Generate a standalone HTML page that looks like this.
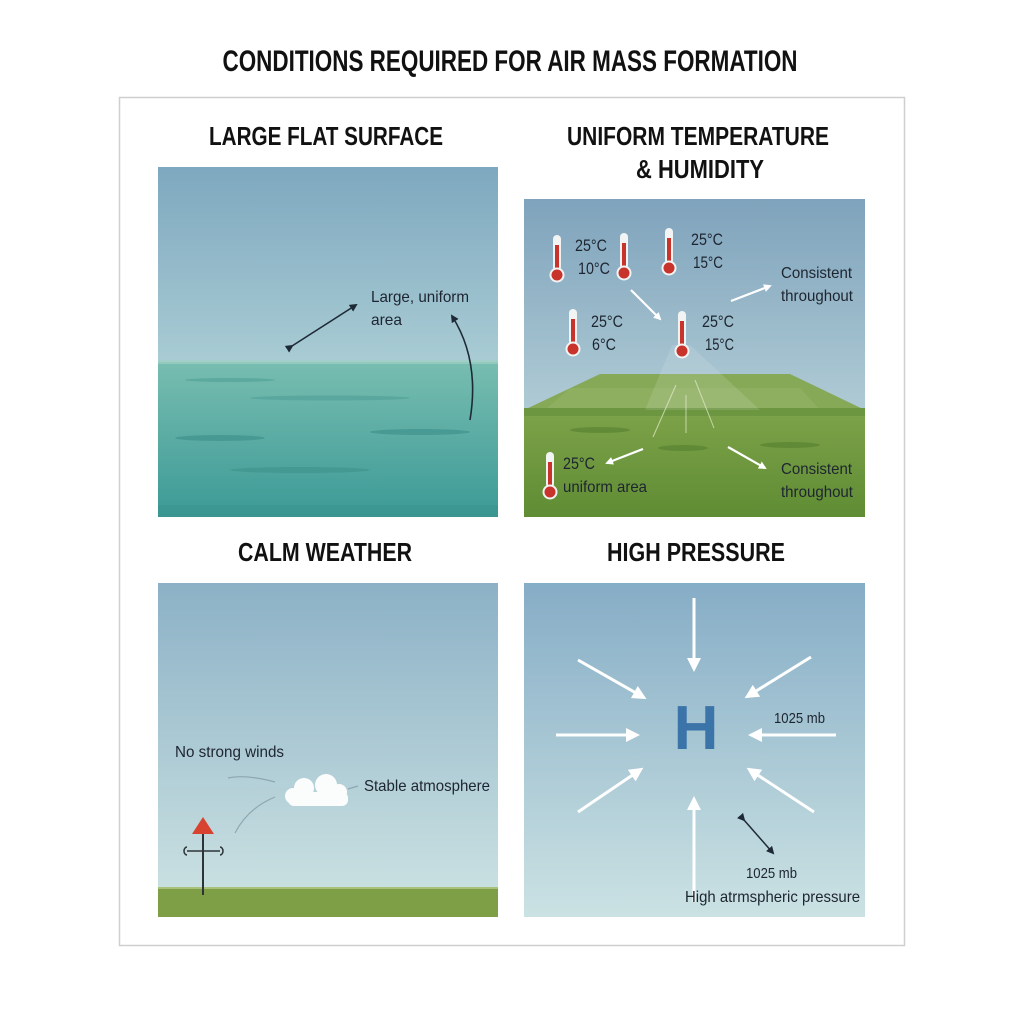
<!DOCTYPE html>
<html><head><meta charset="utf-8"><style>
html,body{margin:0;padding:0;background:#fff;}
svg{display:block;}
text{font-family:"Liberation Sans Narrow","Liberation Sans",sans-serif;fill:#1d2530;}
.h{font-weight:bold;fill:#111;}
</style></head><body>
<svg width="1024" height="1024" viewBox="0 0 1024 1024" xmlns="http://www.w3.org/2000/svg">
<defs>
<linearGradient id="sky1" x1="0" y1="0" x2="0" y2="1"><stop offset="0" stop-color="#7ea8bf"/><stop offset="1" stop-color="#a9ccd4"/></linearGradient>
<linearGradient id="sea" x1="0" y1="0" x2="0" y2="1"><stop offset="0" stop-color="#78bdb0"/><stop offset="1" stop-color="#3c9a96"/></linearGradient>
<linearGradient id="sky2" x1="0" y1="0" x2="0" y2="1"><stop offset="0" stop-color="#7fa3bc"/><stop offset="1" stop-color="#c7dfe1"/></linearGradient>
<linearGradient id="sky3" x1="0" y1="0" x2="0" y2="1"><stop offset="0" stop-color="#8cb1c6"/><stop offset="1" stop-color="#c9e0e1"/></linearGradient>
<linearGradient id="sky4" x1="0" y1="0" x2="0" y2="1"><stop offset="0" stop-color="#86adc6"/><stop offset="1" stop-color="#cbe2e3"/></linearGradient>
<linearGradient id="gr" x1="0" y1="0" x2="0" y2="1"><stop offset="0" stop-color="#7ea34a"/><stop offset="1" stop-color="#5f8c34"/></linearGradient>
<marker id="aw" markerWidth="8" markerHeight="8" refX="6" refY="4" orient="auto" markerUnits="userSpaceOnUse"><path d="M0,0 L8,4 L0,8 Z" fill="#fff"/></marker>
<marker id="ak" markerWidth="8" markerHeight="8" refX="6" refY="4" orient="auto" markerUnits="userSpaceOnUse"><path d="M0,0 L8,4 L0,8 Z" fill="#1d2a36"/></marker>
<marker id="aw2" markerWidth="14" markerHeight="14" refX="10" refY="7" orient="auto" markerUnits="userSpaceOnUse"><path d="M0,0 L14,7 L0,14 Z" fill="#fff"/></marker>
<g id="th"><rect x="-4" y="0" width="8" height="36" rx="4" fill="#f2f4f4"/><rect x="-2" y="10" width="4" height="28" fill="#c8332c"/><circle cx="0" cy="40" r="7.5" fill="#f2f4f4"/><circle cx="0" cy="40" r="5.5" fill="#c8332c"/></g>
</defs>

<text x="510" y="71" text-anchor="middle" class="h" font-size="30" textLength="575" lengthAdjust="spacingAndGlyphs">CONDITIONS REQUIRED FOR AIR MASS FORMATION</text>
<rect x="119.5" y="97.5" width="785" height="848" fill="none" stroke="#cfcfcf" stroke-width="1.5"/>

<text x="326" y="145" text-anchor="middle" class="h" font-size="26" textLength="234" lengthAdjust="spacingAndGlyphs">LARGE FLAT SURFACE</text>
<text x="698" y="145" text-anchor="middle" class="h" font-size="26" textLength="262" lengthAdjust="spacingAndGlyphs">UNIFORM TEMPERATURE</text>
<text x="700" y="178" text-anchor="middle" class="h" font-size="26" textLength="128" lengthAdjust="spacingAndGlyphs">&amp; HUMIDITY</text>
<text x="325" y="561" text-anchor="middle" class="h" font-size="26" textLength="174" lengthAdjust="spacingAndGlyphs">CALM WEATHER</text>
<text x="696" y="561" text-anchor="middle" class="h" font-size="26" textLength="178" lengthAdjust="spacingAndGlyphs">HIGH PRESSURE</text>

<!-- TL panel -->
<rect x="158" y="167" width="340" height="196" fill="url(#sky1)"/>
<rect x="158" y="362" width="340" height="155" fill="url(#sea)"/>
<rect x="158" y="360" width="340" height="4" fill="#9fd0c4" opacity="0.7"/>
<ellipse cx="230" cy="380" rx="45" ry="2" fill="#4f9e96" opacity="0.6"/>
<ellipse cx="330" cy="398" rx="80" ry="2.5" fill="#4f9e96" opacity="0.6"/>
<ellipse cx="420" cy="432" rx="50" ry="3" fill="#3b8d88" opacity="0.6"/>
<ellipse cx="220" cy="438" rx="45" ry="3" fill="#3b8d88" opacity="0.6"/>
<ellipse cx="300" cy="470" rx="70" ry="3" fill="#3b8d88" opacity="0.5"/>
<rect x="158" y="505" width="340" height="12" fill="#3a9590" opacity="0.6"/>
<line x1="292" y1="346" x2="356" y2="305" stroke="#1d2a36" stroke-width="1.6" marker-end="url(#ak)" marker-start="url(#ak)"/>
<path d="M470,420 Q480,360 452,316" fill="none" stroke="#1d2a36" stroke-width="1.6" marker-end="url(#ak)"/>
<text x="371" y="302" font-size="16" textLength="98" lengthAdjust="spacingAndGlyphs">Large, uniform</text>
<text x="371" y="325" font-size="16" textLength="31" lengthAdjust="spacingAndGlyphs">area</text>

<!-- TR panel -->
<rect x="524" y="199" width="341" height="318" fill="url(#sky2)"/>
<polygon points="600,374 790,374 865,410 524,410" fill="#86a957"/>
<polygon points="570,388 800,388 820,410 545,410" fill="#98b96c" opacity="0.4"/>
<rect x="524" y="408" width="341" height="109" fill="url(#gr)"/>
<rect x="524" y="408" width="341" height="8" fill="#6c9640"/>
<polygon points="672,345 690,345 760,410 645,410" fill="#fff" opacity="0.12"/>
<line x1="676" y1="385" x2="653" y2="437" stroke="#e6efd0" stroke-width="1" opacity="0.7"/>
<line x1="686" y1="395" x2="686" y2="433" stroke="#e6efd0" stroke-width="1" opacity="0.7"/>
<line x1="695" y1="380" x2="714" y2="428" stroke="#e6efd0" stroke-width="1" opacity="0.7"/>
<ellipse cx="600" cy="430" rx="30" ry="3" fill="#557f30" opacity="0.6"/>
<ellipse cx="683" cy="448" rx="25" ry="3" fill="#557f30" opacity="0.6"/>
<ellipse cx="790" cy="445" rx="30" ry="3" fill="#557f30" opacity="0.6"/>
<use href="#th" x="557" y="235"/>
<use href="#th" x="624" y="233"/>
<use href="#th" x="669" y="228"/>
<use href="#th" x="573" y="309"/>
<use href="#th" x="682" y="311"/>
<use href="#th" x="550" y="452"/>
<g font-size="17">
<text x="575" y="251" textLength="32" lengthAdjust="spacingAndGlyphs">25°C</text><text x="578" y="274" textLength="32" lengthAdjust="spacingAndGlyphs">10°C</text>
<text x="691" y="245" textLength="32" lengthAdjust="spacingAndGlyphs">25°C</text><text x="693" y="268" textLength="30" lengthAdjust="spacingAndGlyphs">15°C</text>
<text x="591" y="327" textLength="32" lengthAdjust="spacingAndGlyphs">25°C</text><text x="592" y="350" textLength="24" lengthAdjust="spacingAndGlyphs">6°C</text>
<text x="702" y="327" textLength="32" lengthAdjust="spacingAndGlyphs">25°C</text><text x="705" y="350" textLength="29" lengthAdjust="spacingAndGlyphs">15°C</text>
<text x="563" y="469" textLength="32" lengthAdjust="spacingAndGlyphs">25°C</text>
</g>
<g font-size="16">
<text x="563" y="492" textLength="84" lengthAdjust="spacingAndGlyphs">uniform area</text>
<text x="781" y="278" textLength="71" lengthAdjust="spacingAndGlyphs">Consistent</text><text x="781" y="301" textLength="72" lengthAdjust="spacingAndGlyphs">throughout</text>
<text x="781" y="474" textLength="71" lengthAdjust="spacingAndGlyphs">Consistent</text><text x="781" y="497" textLength="72" lengthAdjust="spacingAndGlyphs">throughout</text>
</g>
<g stroke="#fff" stroke-width="2.2" fill="none">
<line x1="631" y1="290" x2="660" y2="319" marker-end="url(#aw)"/>
<line x1="731" y1="301" x2="770" y2="286" marker-end="url(#aw)"/>
<line x1="643" y1="449" x2="607" y2="463" marker-end="url(#aw)"/>
<line x1="728" y1="447" x2="765" y2="468" marker-end="url(#aw)"/>
</g>

<!-- BL panel -->
<rect x="158" y="583" width="340" height="307" fill="url(#sky3)"/>
<rect x="158" y="887" width="340" height="30" fill="#7e9f45"/>
<rect x="158" y="887" width="340" height="2" fill="#a9c27a"/>
<g fill="#fbfdfd">
<circle cx="304" cy="788" r="10"/><circle cx="326" cy="785" r="11"/><circle cx="339" cy="792" r="8"/><circle cx="293" cy="796" r="8"/>
<rect x="288" y="792" width="60" height="14" rx="6"/>
</g>
<path d="M228,778 Q245,774 275,782" fill="none" stroke="#8fa6b0" stroke-width="1.2"/>
<path d="M235,833 Q248,808 275,797" fill="none" stroke="#8fa6b0" stroke-width="1.2"/>
<line x1="348" y1="789" x2="358" y2="786" stroke="#8fa6b0" stroke-width="1.2"/>
<text x="175" y="757" font-size="16" textLength="109" lengthAdjust="spacingAndGlyphs">No strong winds</text>
<text x="364" y="791" font-size="16" textLength="126" lengthAdjust="spacingAndGlyphs">Stable atmosphere</text>
<polygon points="203,817 192,834 214,834" fill="#d8432f"/>
<line x1="203" y1="834" x2="203" y2="895" stroke="#2d3438" stroke-width="2"/>
<line x1="187" y1="851" x2="220" y2="851" stroke="#2d3438" stroke-width="1.6"/>
<path d="M187,847 a3,4 0 1,0 0,8" fill="none" stroke="#2d3438" stroke-width="1.5"/>
<path d="M220,847 a3,4 0 1,1 0,8" fill="none" stroke="#2d3438" stroke-width="1.5"/>

<!-- BR panel -->
<rect x="524" y="583" width="341" height="334" fill="url(#sky4)"/>
<text x="696" y="749" text-anchor="middle" font-size="62" font-weight="bold" style="fill:#3a74a8;font-family:'Liberation Sans',sans-serif">H</text>
<g stroke="#fff" stroke-width="3" fill="none">
<line x1="694" y1="598" x2="694" y2="668" marker-end="url(#aw2)"/>
<line x1="694" y1="902" x2="694" y2="800" marker-end="url(#aw2)"/>
<line x1="556" y1="735" x2="636" y2="735" marker-end="url(#aw2)"/>
<line x1="836" y1="735" x2="752" y2="735" marker-end="url(#aw2)"/>
<line x1="578" y1="660" x2="643" y2="697" marker-end="url(#aw2)"/>
<line x1="811" y1="657" x2="748" y2="696" marker-end="url(#aw2)"/>
<line x1="578" y1="812" x2="640" y2="770" marker-end="url(#aw2)"/>
<line x1="814" y1="812" x2="750" y2="770" marker-end="url(#aw2)"/>
</g>
<text x="774" y="723" font-size="15" textLength="51" lengthAdjust="spacingAndGlyphs">1025 mb</text>
<line x1="744" y1="820" x2="773" y2="853" stroke="#1d2a36" stroke-width="1.5" marker-end="url(#ak)" marker-start="url(#ak)"/>
<text x="746" y="878" font-size="15" textLength="51" lengthAdjust="spacingAndGlyphs">1025 mb</text>
<text x="685" y="902" font-size="16" textLength="175" lengthAdjust="spacingAndGlyphs">High atrmspheric pressure</text>
</svg>
</body></html>
